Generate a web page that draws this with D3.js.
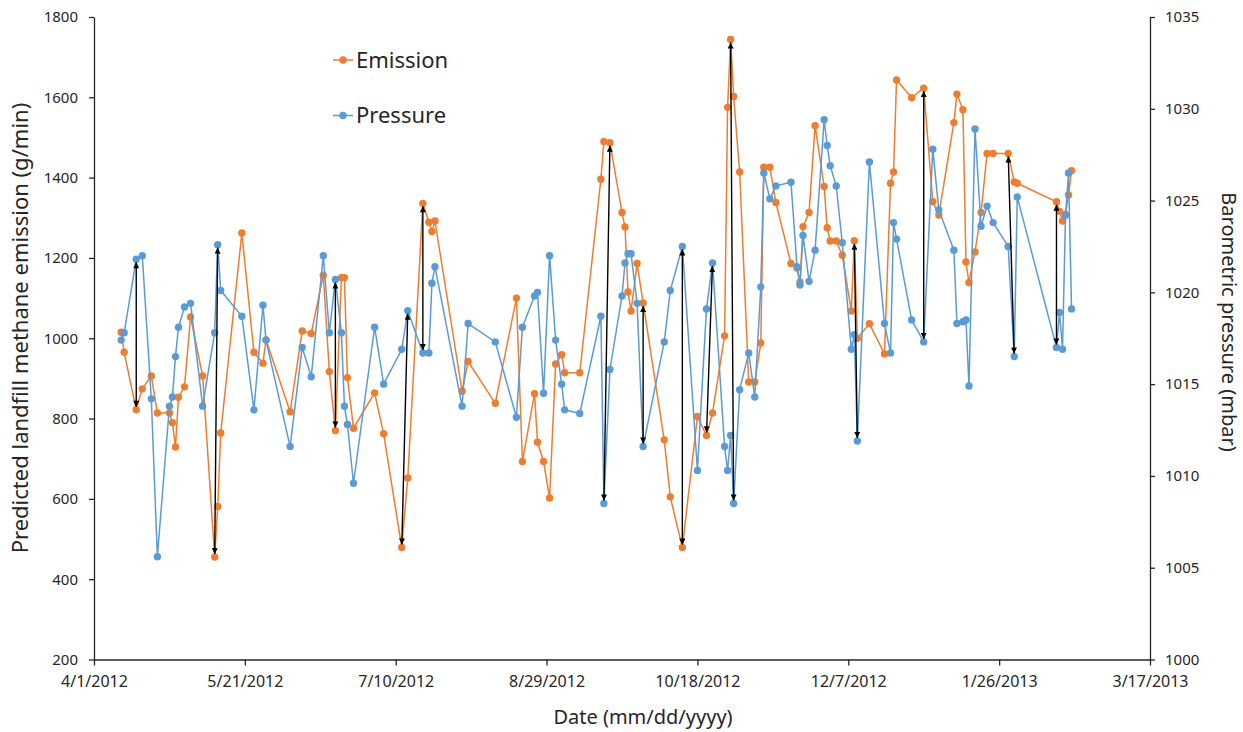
<!DOCTYPE html>
<html>
<head>
<meta charset="utf-8">
<script src="https://cdnjs.cloudflare.com/ajax/libs/d3/7.8.5/d3.min.js"></script>
<style>
	body { margin: 0; background: #ffffff; }
	text { font-family: "Noto Sans", "Open Sans", sans-serif; fill: #262626; }
</style>
</head>
<body>
<div id="chart"></div>
<script>
// sampling dates (mm/dd/yyyy)
var dates = [
	"4/10/2012", "4/11/2012", "4/15/2012", "4/17/2012", "4/20/2012", "4/22/2012", "4/26/2012", "4/27/2012", "4/28/2012", "4/29/2012",
	"5/1/2012", "5/3/2012", "5/7/2012", "5/11/2012", "5/12/2012", "5/13/2012", "5/20/2012", "5/24/2012", "5/27/2012", "5/28/2012",
	"6/5/2012", "6/9/2012", "6/12/2012", "6/16/2012", "6/18/2012", "6/20/2012", "6/22/2012", "6/23/2012", "6/24/2012", "6/26/2012",
	"7/3/2012", "7/6/2012", "7/12/2012", "7/14/2012", "7/19/2012", "7/21/2012", "7/22/2012", "7/23/2012", "8/1/2012", "8/3/2012",
	"8/12/2012", "8/19/2012", "8/21/2012", "8/25/2012", "8/26/2012", "8/28/2012", "8/30/2012", "9/1/2012", "9/3/2012", "9/4/2012",
	"9/9/2012", "9/16/2012", "9/17/2012", "9/19/2012", "9/23/2012", "9/24/2012", "9/25/2012", "9/26/2012", "9/28/2012", "9/30/2012",
	"10/7/2012", "10/9/2012", "10/13/2012", "10/18/2012", "10/21/2012", "10/23/2012", "10/27/2012", "10/28/2012", "10/29/2012", "10/30/2012",
	"11/1/2012", "11/4/2012", "11/6/2012", "11/8/2012", "11/9/2012", "11/11/2012", "11/13/2012", "11/18/2012", "11/20/2012", "11/21/2012",
	"11/22/2012", "11/24/2012", "11/26/2012", "11/29/2012", "11/30/2012", "12/1/2012", "12/3/2012", "12/5/2012", "12/8/2012", "12/9/2012",
	"12/10/2012", "12/14/2012", "12/19/2012", "12/21/2012", "12/22/2012", "12/23/2012", "12/28/2012", "1/1/2013", "1/4/2013", "1/6/2013",
	"1/11/2013", "1/12/2013", "1/14/2013", "1/15/2013", "1/16/2013", "1/18/2013", "1/20/2013", "1/22/2013", "1/24/2013", "1/29/2013",
	"1/31/2013", "2/1/2013", "2/14/2013", "2/15/2013", "2/16/2013", "2/17/2013", "2/18/2013", "2/19/2013"
];

// predicted landfill methane emission (g/min)
var emission = [
	1015, 965, 822, 874, 906, 814, 814, 790, 729, 853,
	879, 1053, 906, 455, 581, 764, 1262, 965, 938, 996,
	817, 1018, 1012, 1157, 917, 770, 1151, 1151, 902, 776,
	864, 762, 479, 652, 1336, 1289, 1266, 1292, 868, 942,
	838, 1100, 693, 862, 741, 693, 602, 936, 959, 914,
	914, 1396, 1490, 1487, 1313, 1277, 1115, 1068, 1186, 1088,
	747, 605, 479, 805, 758, 814, 1006, 1575, 1744, 1602,
	1414, 891, 891, 988, 1426, 1426, 1338, 1186, 1175, 1140,
	1278, 1313, 1529, 1378, 1275, 1242, 1242, 1207, 1068, 1243,
	1000, 1036, 961, 1386, 1414, 1643, 1599, 1623, 1340, 1307,
	1537, 1608, 1569, 1190, 1139, 1215, 1313, 1460, 1460, 1460,
	1389, 1386, 1340, 1316, 1292, 1309, 1357, 1417
];

// barometric pressure (mbar)
var pressure = [
	1017.4, 1017.8, 1021.8, 1022.0, 1014.2, 1005.6, 1013.8, 1014.3, 1016.5, 1018.1,
	1019.2, 1019.4, 1013.8, 1017.8, 1022.6, 1020.1, 1018.7, 1013.6, 1019.3, 1017.4,
	1011.6, 1017.0, 1015.4, 1022.0, 1017.8, 1020.7, 1017.8, 1013.8, 1012.8, 1009.6,
	1018.1, 1015.0, 1016.9, 1019.0, 1016.7, 1016.7, 1020.5, 1021.4, 1013.8, 1018.3,
	1017.3, 1013.2, 1018.1, 1019.8, 1020.0, 1014.5, 1022.0, 1017.4, 1015.0, 1013.6,
	1013.4, 1018.7, 1008.5, 1015.8, 1019.8, 1021.6, 1022.1, 1022.1, 1019.4, 1011.6,
	1017.3, 1020.1, 1022.5, 1010.3, 1019.1, 1021.6, 1011.6, 1010.3, 1012.2, 1008.5,
	1014.7, 1016.7, 1014.3, 1020.3, 1026.5, 1025.1, 1025.8, 1026.0, 1021.4, 1020.4,
	1023.1, 1020.6, 1022.3, 1029.4, 1028.0, 1026.9, 1025.8, 1022.7, 1016.9, 1017.7,
	1011.9, 1027.1, 1018.3, 1016.7, 1023.8, 1022.9, 1018.5, 1017.3, 1027.8, 1024.5,
	1022.3, 1018.3, 1018.4, 1018.5, 1014.9, 1028.9, 1023.6, 1024.7, 1023.8, 1022.5,
	1016.5, 1025.2, 1017.0, 1018.9, 1016.9, 1024.2, 1026.5, 1019.1
];

// arrows: [emission index, pressure index]
var arrowPairs = [
	[2, 2], [13, 14], [25, 25], [32, 33], [34, 34], [53, 52], [59, 59],
	[62, 62], [64, 65], [68, 69], [89, 90], [97, 97], [109, 110], [112, 112]
];

// axis ticks
var xTickLabels = ["4/1/2012", "5/21/2012", "7/10/2012", "8/29/2012", "10/18/2012", "12/7/2012", "1/26/2013", "3/17/2013"];
var emissionTicks = [200, 400, 600, 800, 1000, 1200, 1400, 1600, 1800];
var pressureTicks = [1000, 1005, 1010, 1015, 1020, 1025, 1030, 1035];

// settings
var svgWidth = 1243;
var svgHeight = 732;
var plot = { left: 94, right: 1150, top: 17, bottom: 659.5 };
var emissionColor = "#ED7D31";
var pressureColor = "#5B9BD5";
var axisColor = "#262626";
var dotRadius = 3.7;

var parseDate = d3.utcParse("%m/%d/%Y");

var rows = dates.map(function (d, i) {
	return { date: parseDate(d), emission: emission[i], pressure: pressure[i] };
});

var svg = d3.select("#chart")
	.append("svg")
	.attr("width", svgWidth)
	.attr("height", svgHeight);

// arrow head
svg.append("defs").append("marker")
	.attr("id", "arrowHead")
	.attr("viewBox", "0 0 10 10")
	.attr("refX", 10)
	.attr("refY", 5)
	.attr("markerWidth", 7)
	.attr("markerHeight", 6)
	.attr("markerUnits", "userSpaceOnUse")
	.attr("orient", "auto-start-reverse")
	.append("path")
	.attr("d", "M0,0L10,5L0,10z")
	.attr("fill", "#000");

// scales
var xScale = d3.scaleUtc()
	.domain([parseDate(xTickLabels[0]), parseDate(xTickLabels[xTickLabels.length - 1])])
	.range([plot.left, plot.right]);
var yLeft = d3.scaleLinear()
	.domain([emissionTicks[0], emissionTicks[emissionTicks.length - 1]])
	.range([plot.bottom, plot.top]);
var yRight = d3.scaleLinear()
	.domain([pressureTicks[0], pressureTicks[pressureTicks.length - 1]])
	.range([plot.bottom, plot.top]);

// axes
function styleAxis(g, size) {
	g.attr("font-family", null)
		.attr("font-size", size)
		.attr("color", axisColor);
	g.selectAll(".domain").attr("stroke-width", 1.3);
	g.selectAll(".tick line").attr("stroke-width", 1.3);
}

svg.append("g")
	.attr("transform", `translate(0, ${plot.bottom})`)
	.call(d3.axisBottom(xScale)
		.tickValues(xTickLabels.map(parseDate))
		.tickFormat(function (d, i) { return xTickLabels[i]; })
		.tickSize(6)
		.tickSizeOuter(0)
		.tickPadding(10))
	.call(styleAxis, 16);

svg.append("g")
	.attr("transform", `translate(${plot.left}, 0)`)
	.call(d3.axisLeft(yLeft)
		.tickValues(emissionTicks)
		.tickFormat(d3.format("d"))
		.tickSize(5)
		.tickSizeOuter(0)
		.tickPadding(11))
	.call(styleAxis, 15);

svg.append("g")
	.attr("transform", `translate(${plot.right}, 0)`)
	.call(d3.axisRight(yRight)
		.tickValues(pressureTicks)
		.tickFormat(d3.format("d"))
		.tickSize(5)
		.tickSizeOuter(0)
		.tickPadding(10))
	.call(styleAxis, 15);

// series
var emissionLine = d3.line()
	.x(d => xScale(d.date))
	.y(d => yLeft(d.emission));
var pressureLine = d3.line()
	.x(d => xScale(d.date))
	.y(d => yRight(d.pressure));

svg.append("path")
	.datum(rows)
	.attr("d", emissionLine)
	.attr("fill", "none")
	.attr("stroke", emissionColor)
	.attr("stroke-width", 1.5);
svg.append("g").selectAll("circle")
	.data(rows)
	.enter()
	.append("circle")
	.attr("cx", d => xScale(d.date))
	.attr("cy", d => yLeft(d.emission))
	.attr("r", dotRadius)
	.attr("fill", emissionColor);

svg.append("path")
	.datum(rows)
	.attr("d", pressureLine)
	.attr("fill", "none")
	.attr("stroke", pressureColor)
	.attr("stroke-width", 1.5);
svg.append("g").selectAll("circle")
	.data(rows)
	.enter()
	.append("circle")
	.attr("cx", d => xScale(d.date))
	.attr("cy", d => yRight(d.pressure))
	.attr("r", dotRadius)
	.attr("fill", pressureColor);

// double headed arrows between emission and pressure
var arrowInset = 3;
svg.append("g").selectAll("line")
	.data(arrowPairs)
	.enter()
	.append("line")
	.each(function (p) {
		var x1 = xScale(rows[p[0]].date), y1 = yLeft(rows[p[0]].emission);
		var x2 = xScale(rows[p[1]].date), y2 = yRight(rows[p[1]].pressure);
		var len = Math.hypot(x2 - x1, y2 - y1);
		var ux = (x2 - x1) / len, uy = (y2 - y1) / len;
		d3.select(this)
			.attr("x1", x1 + ux * arrowInset)
			.attr("y1", y1 + uy * arrowInset)
			.attr("x2", x2 - ux * arrowInset)
			.attr("y2", y2 - uy * arrowInset);
	})
	.attr("stroke", "#000")
	.attr("stroke-width", 1.4)
	.attr("marker-start", "url(#arrowHead)")
	.attr("marker-end", "url(#arrowHead)");

// legend
var legendItems = [
	{ label: "Emission", color: emissionColor, y: 60 },
	{ label: "Pressure", color: pressureColor, y: 115.5 }
];
var legend = svg.append("g").selectAll("g")
	.data(legendItems)
	.enter()
	.append("g")
	.attr("transform", d => `translate(333, ${d.y})`);
legend.append("line")
	.attr("x1", 0)
	.attr("x2", 20)
	.attr("stroke", d => d.color)
	.attr("stroke-width", 1.5);
legend.append("circle")
	.attr("cx", 10)
	.attr("r", dotRadius)
	.attr("fill", d => d.color);
legend.append("text")
	.attr("x", 23)
	.attr("y", 7.5)
	.attr("font-size", 22)
	.text(d => d.label);

// axis titles
svg.append("text")
	.attr("x", 643)
	.attr("y", 724)
	.attr("text-anchor", "middle")
	.attr("font-size", 20)
	.text("Date (mm/dd/yyyy)");

svg.append("text")
	.attr("transform", "translate(28, 328) rotate(-90)")
	.attr("text-anchor", "middle")
	.attr("font-size", 22)
	.text("Predicted landfill methane emission (g/min)");

svg.append("text")
	.attr("transform", "translate(1222, 322) rotate(90)")
	.attr("text-anchor", "middle")
	.attr("font-size", 20)
	.text("Barometric pressure (mbar)");
</script>
</body>
</html>
